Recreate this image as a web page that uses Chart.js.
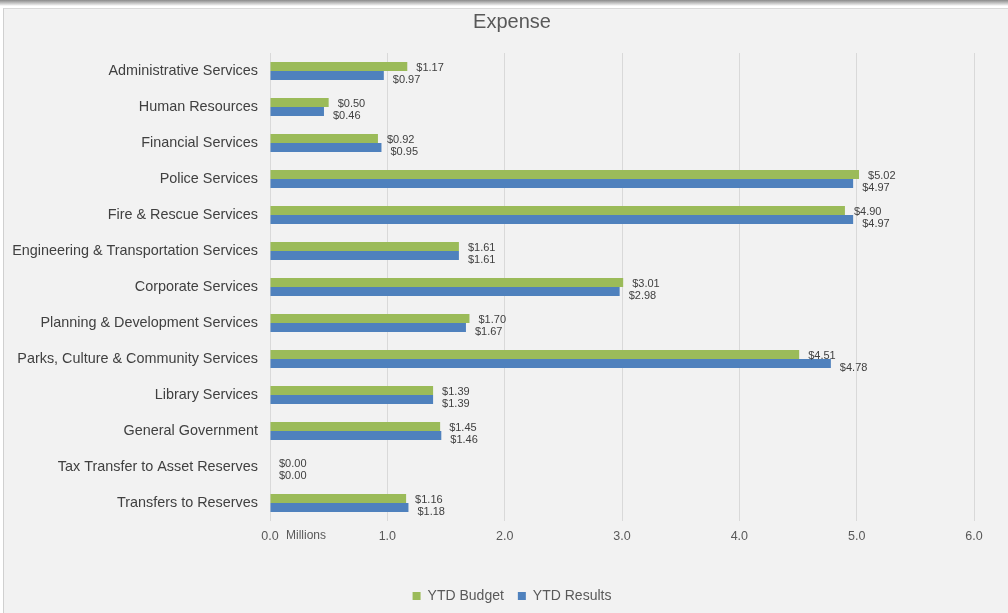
<!DOCTYPE html>
<html>
<head>
<meta charset="utf-8">
<script src="https://cdn.jsdelivr.net/npm/chart.js@4.4.1/dist/chart.umd.min.js"></script>
<style>
  html, body { margin: 0; padding: 0; background: #fff; overflow: hidden; }
  #shadow { position: absolute; left: 0; top: 0; width: 1008px; height: 6px;
    background: linear-gradient(#8a8a8a, #d8d8d8 70%, #fff); }
  #frame { position: absolute; left: 3px; top: 8px; width: 1010px; height: 610px;
    background: #f2f2f2; border-left: 1px solid #d0d0d0; border-top: 1px solid #d9d9d9; }
  #chart { position: absolute; left: 0; top: 0; }
</style>
</head>
<body>
<div id="shadow"></div>
<div id="frame"></div>
<canvas id="chart" width="1008" height="613"></canvas>
<script>
// values in millions
const categories = [
  "Administrative Services",
  "Human Resources",
  "Financial Services",
  "Police Services",
  "Fire & Rescue Services",
  "Engineering & Transportation Services",
  "Corporate Services",
  "Planning & Development Services",
  "Parks, Culture & Community Services",
  "Library Services",
  "General Government",
  "Tax Transfer to Asset Reserves",
  "Transfers to Reserves",
];
const ytdBudget = [1.17, 0.50, 0.92, 5.02, 4.90, 1.61, 3.01, 1.70, 4.51, 1.39, 1.45, 0.00, 1.16];
const ytdResults = [0.97, 0.46, 0.95, 4.97, 4.97, 1.61, 2.98, 1.67, 4.78, 1.39, 1.46, 0.00, 1.18];
const xTicks = [0, 1, 2, 3, 4, 5, 6];

const FONT = "'Liberation Sans', Arial, sans-serif";
const TEXT = "#595959";

// $ labels at the end of each bar (budget label nudged up, results down, like Excel does)
const barLabels = {
  id: "barLabels",
  afterDatasetsDraw(chart) {
    const ctx = chart.ctx;
    ctx.save();
    ctx.font = "11px " + FONT;
    ctx.fillStyle = "#404040";
    ctx.textBaseline = "middle";
    ctx.textAlign = "left";
    chart.data.datasets.forEach((ds, i) => {
      const meta = chart.getDatasetMeta(i);
      const dy = i === 0 ? 1.5 : 4.5;
      meta.data.forEach((bar, j) => {
        ctx.fillText("$" + ds.data[j].toFixed(2), bar.x + 9, bar.y + dy);
      });
    });
    ctx.restore();
  },
};

// category names, drawn here so they are not clipped to the axis box
const categoryLabels = {
  id: "categoryLabels",
  afterDraw(chart) {
    const y = chart.scales.y;
    const ctx = chart.ctx;
    ctx.save();
    ctx.font = "14.4px " + FONT;
    ctx.fillStyle = "#404040";
    ctx.textBaseline = "middle";
    ctx.textAlign = "right";
    categories.forEach((c, i) => {
      ctx.fillText(c, chart.chartArea.left - 12, y.getPixelForValue(i));
    });
    ctx.restore();
  },
};

// "Millions" unit label beside the 0.0 tick
const unitLabel = {
  id: "unitLabel",
  afterDraw(chart) {
    const x = chart.scales.x;
    const ctx = chart.ctx;
    ctx.save();
    ctx.font = "12px " + FONT;
    ctx.fillStyle = TEXT;
    ctx.textBaseline = "middle";
    ctx.textAlign = "left";
    ctx.fillText("Millions", x.getPixelForValue(0) + 16, chart.chartArea.bottom + 15);
    ctx.restore();
  },
};

new Chart(document.getElementById("chart"), {
  type: "bar",
  data: {
    labels: categories,
    datasets: [
      {
        label: "YTD Budget",
        data: ytdBudget,
        backgroundColor: "#9bbb59",
        categoryPercentage: 0.5,
        barPercentage: 1.0,
      },
      {
        label: "YTD Results",
        data: ytdResults,
        backgroundColor: "#4f81bd",
        categoryPercentage: 0.5,
        barPercentage: 1.0,
      },
    ],
  },
  options: {
    responsive: false,
    animation: false,
    indexAxis: "y",
    layout: { padding: { left: 50, right: 34, top: 0, bottom: 0 } },
    scales: {
      x: {
        min: 0,
        max: 6,
        afterBuildTicks: (s) => { s.ticks = xTicks.map((v) => ({ value: v })); },
        afterFit: (s) => { s.height = 54; },
        grid: { color: "#d9d9d9", drawTicks: false },
        border: { display: false },
        ticks: {
          padding: 8,
          color: TEXT,
          font: { family: FONT, size: 12.5 },
          callback: (v) => Number(v).toFixed(1),
        },
      },
      y: {
        afterFit: (s) => { s.width = 220; },
        grid: { display: false, drawTicks: false },
        border: { display: false },
        ticks: { display: false },
      },
    },
    plugins: {
      title: {
        display: true,
        text: "Expense",
        color: TEXT,
        font: { family: FONT, size: 20, weight: "normal" },
        padding: { top: 10, bottom: 19 },
      },
      legend: {
        position: "bottom",
        labels: {
          boxWidth: 8,
          boxHeight: 8,
          padding: 14,
          color: TEXT,
          font: { family: FONT, size: 14 },
        },
      },
      tooltip: { enabled: false },
    },
  },
  plugins: [barLabels, categoryLabels, unitLabel],
});
</script>
</body>
</html>
